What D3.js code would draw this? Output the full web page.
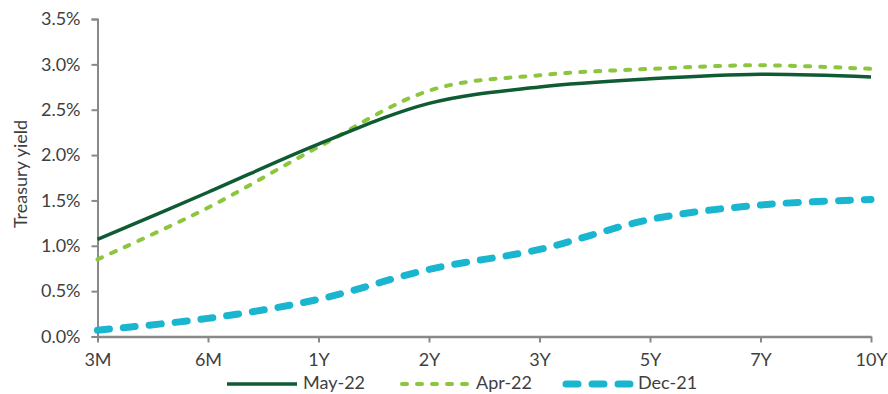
<!DOCTYPE html>
<html>
<head>
<meta charset="utf-8">
<script src="https://cdn.jsdelivr.net/npm/d3@7/dist/d3.min.js"></script>
<style>
  html, body { margin: 0; padding: 0; background: #fff; }
  svg text { font-family: Lato, "Open Sans", sans-serif; fill: #3f3f3f; }
</style>
</head>
<body>
<svg id="chart" width="888" height="394"></svg>
<script>
// Treasury yield curve snapshots by maturity
const maturities = ["3M", "6M", "1Y", "2Y", "3Y", "5Y", "7Y", "10Y"];
const may22 = [1.07, 1.59, 2.12, 2.57, 2.75, 2.84, 2.89, 2.86];
const apr22 = [0.85, 1.42, 2.09, 2.71, 2.88, 2.95, 2.99, 2.95];
const dec21 = [0.07, 0.20, 0.41, 0.74, 0.96, 1.29, 1.45, 1.51];
const yTicks = [0, 0.5, 1.0, 1.5, 2.0, 2.5, 3.0, 3.5];

const series = [
  { name: "May-22", values: may22, color: "#0f5b33", width: 3.5, dash: null, cap: "butt" },
  { name: "Apr-22", values: apr22, color: "#8cc63f", width: 4, dash: "5,10", cap: "round" },
  { name: "Dec-21", values: dec21, color: "#1ab5cf", width: 7, dash: "12,14", cap: "round" }
];

const svg = d3.select("#chart");
const plot = { left: 97.5, right: 871, top: 19, bottom: 336.5 };

const x = d3.scalePoint().domain(maturities).range([plot.left, plot.right]);
const y = d3.scaleLinear().domain([0, 3.5]).range([plot.bottom, plot.top]);

const axisColor = "#898989";

// y axis
const yAxis = svg.append("g")
  .attr("transform", `translate(${plot.left},0)`)
  .call(d3.axisLeft(y).tickValues(yTicks).tickFormat(d => d.toFixed(1) + "%").tickSize(6).tickPadding(11));
yAxis.select(".domain").attr("stroke", axisColor).attr("stroke-width", 2);
yAxis.selectAll(".tick line").attr("stroke", axisColor).attr("stroke-width", 2);
yAxis.selectAll(".tick text").style("font-size", "18px");

// x axis
const xAxis = svg.append("g")
  .attr("transform", `translate(0,${plot.bottom})`)
  .call(d3.axisBottom(x).tickSize(6).tickSizeOuter(0).tickPadding(11));
xAxis.select(".domain").attr("stroke", axisColor).attr("stroke-width", 2.5);
xAxis.selectAll(".tick line").attr("stroke", axisColor).attr("stroke-width", 2);
xAxis.selectAll(".tick text").style("font-size", "18px");

// axis title
svg.append("text")
  .attr("transform", `translate(27,174) rotate(-90)`)
  .attr("text-anchor", "middle")
  .style("font-size", "18px")
  .text("Treasury yield");

// curves
const line = d3.line()
  .x((d, i) => x(maturities[i]))
  .y(d => y(d))
  .curve(d3.curveCardinal.tension(0));

// draw back to front so the solid line sits on top
[...series].reverse().forEach(s => {
  svg.append("path")
    .datum(s.values)
    .attr("d", line)
    .attr("fill", "none")
    .attr("stroke", s.color)
    .attr("stroke-width", s.width)
    .attr("stroke-dasharray", s.dash)
    .attr("stroke-linecap", s.cap);
});

// legend
const legendY = 384;
const legendItems = [
  { x0: 227, x1: 297 },
  { x0: 402, x1: 470 },
  { x0: 566, x1: 632 }
];
series.forEach((s, i) => {
  const g = svg.append("g");
  g.append("line")
    .attr("x1", legendItems[i].x0).attr("x2", legendItems[i].x1)
    .attr("y1", legendY).attr("y2", legendY)
    .attr("stroke", s.color)
    .attr("stroke-width", s.width)
    .attr("stroke-dasharray", s.dash)
    .attr("stroke-linecap", s.cap);
  g.append("text")
    .attr("x", legendItems[i].x1 + 6)
    .attr("y", legendY)
    .attr("dy", "0.3em")
    .style("font-size", "18px")
    .text(s.name);
});
</script>
</body>
</html>
